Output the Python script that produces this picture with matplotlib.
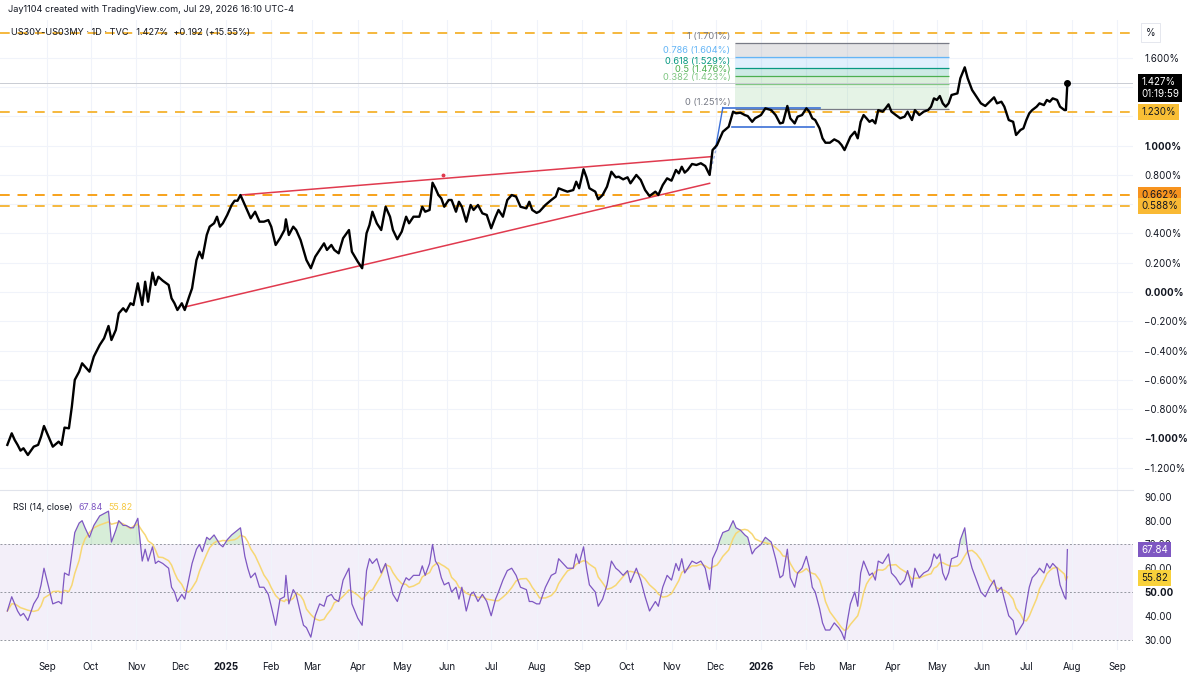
import matplotlib
matplotlib.use("Agg")
import matplotlib.pyplot as plt
import matplotlib.dates as mdates
import numpy as np
import pandas as pd

plt.rcParams['font.family'] = ['Inter', 'DejaVu Sans']

# ---------------- data ----------------
dates = [
    "2024-08-05","2024-08-08","2024-08-10","2024-08-12","2024-08-14","2024-08-16","2024-08-19","2024-08-23","2024-08-26","2024-08-28","2024-08-30",
    "2024-09-03","2024-09-05","2024-09-09","2024-09-11","2024-09-13","2024-09-16","2024-09-18","2024-09-20","2024-09-23","2024-09-25","2024-09-27","2024-09-30",
    "2024-10-03","2024-10-07","2024-10-10","2024-10-13","2024-10-15","2024-10-18","2024-10-20","2024-10-23","2024-10-25","2024-10-28","2024-10-30",
    "2024-11-02","2024-11-05","2024-11-07","2024-11-09","2024-11-12","2024-11-14","2024-11-16","2024-11-19","2024-11-23","2024-11-25","2024-11-27","2024-11-29",
    "2024-12-02","2024-12-04","2024-12-07","2024-12-09","2024-12-12","2024-12-14","2024-12-16","2024-12-19","2024-12-21","2024-12-24","2024-12-26","2024-12-28","2024-12-30",
    "2025-01-02","2025-01-05","2025-01-07","2025-01-09","2025-01-11","2025-01-14","2025-01-16","2025-01-18","2025-01-21","2025-01-24","2025-01-27","2025-01-30",
    "2025-02-01","2025-02-04","2025-02-07","2025-02-10","2025-02-11","2025-02-13","2025-02-16","2025-02-18","2025-02-21","2025-02-23","2025-02-25","2025-02-28",
    "2025-03-03","2025-03-06","2025-03-09","2025-03-11","2025-03-14","2025-03-16","2025-03-19","2025-03-22","2025-03-26","2025-03-28",
    "2025-04-01","2025-04-04","2025-04-07","2025-04-09","2025-04-11","2025-04-14","2025-04-17","2025-04-20","2025-04-23","2025-04-25","2025-04-28",
    "2025-05-01","2025-05-04","2025-05-06","2025-05-09","2025-05-13","2025-05-15","2025-05-17","2025-05-20","2025-05-22","2025-05-24","2025-05-26","2025-05-28","2025-05-30",
    "2025-06-02","2025-06-04","2025-06-07","2025-06-09","2025-06-11","2025-06-14","2025-06-17","2025-06-19","2025-06-22","2025-06-25","2025-06-28",
    "2025-07-01","2025-07-04","2025-07-06","2025-07-09","2025-07-12","2025-07-15","2025-07-18","2025-07-21","2025-07-25","2025-07-27","2025-07-29",
    "2025-08-01","2025-08-03","2025-08-07","2025-08-11","2025-08-14","2025-08-16","2025-08-19","2025-08-22","2025-08-26","2025-08-28","2025-08-30",
    "2025-09-02","2025-09-04","2025-09-06","2025-09-10","2025-09-12","2025-09-15","2025-09-18","2025-09-21","2025-09-24","2025-09-26","2025-09-29",
    "2025-10-02","2025-10-04","2025-10-08","2025-10-11","2025-10-14","2025-10-17","2025-10-21","2025-10-23","2025-10-26","2025-10-29",
    "2025-11-01","2025-11-04","2025-11-06","2025-11-08","2025-11-10","2025-11-12","2025-11-15","2025-11-18","2025-11-21","2025-11-24","2025-11-27","2025-11-29",
    "2025-12-02","2025-12-04","2025-12-06","2025-12-10","2025-12-13","2025-12-15","2025-12-18","2025-12-21","2025-12-23","2025-12-26","2025-12-28",
    "2026-01-01","2026-01-04","2026-01-08","2026-01-11","2026-01-14","2026-01-16","2026-01-19","2026-01-21","2026-01-24","2026-01-26","2026-01-29",
    "2026-02-01","2026-02-03","2026-02-05","2026-02-07","2026-02-10","2026-02-12","2026-02-14","2026-02-17","2026-02-20","2026-02-23","2026-02-25","2026-02-27",
    "2026-03-01","2026-03-03","2026-03-06","2026-03-08","2026-03-10","2026-03-12","2026-03-14","2026-03-16","2026-03-18","2026-03-20","2026-03-22","2026-03-25","2026-03-27","2026-03-29","2026-03-31",
    "2026-04-03","2026-04-06","2026-04-09","2026-04-11","2026-04-14","2026-04-16","2026-04-19","2026-04-22","2026-04-25","2026-04-27","2026-04-29",
    "2026-05-01","2026-05-03","2026-05-05","2026-05-07","2026-05-09","2026-05-11","2026-05-15","2026-05-17","2026-05-20","2026-05-22","2026-05-25","2026-05-28","2026-05-31",
    "2026-06-03","2026-06-06","2026-06-09","2026-06-11","2026-06-14","2026-06-16","2026-06-19","2026-06-22","2026-06-24","2026-06-27","2026-06-29",
    "2026-07-01","2026-07-03","2026-07-05","2026-07-08","2026-07-10","2026-07-13","2026-07-15","2026-07-17","2026-07-19","2026-07-22","2026-07-24","2026-07-27","2026-07-28","2026-07-29",
]

spread = [
    -1.044,-0.965,-1.01,-1.044,-1.083,-1.067,-1.113,-1.056,-1.044,-0.988,-0.915,
    -1.01,-1.056,-1.022,-1.044,-0.926,-0.931,-0.783,-0.60,-0.544,-0.487,-0.51,-0.544,
    -0.441,-0.362,-0.316,-0.232,-0.328,-0.259,-0.146,-0.111,-0.134,-0.077,-0.089,
    0.059,-0.089,0.070,-0.066,0.132,0.048,0.104,0.077,0.048,-0.043,-0.077,-0.123,
    -0.077,-0.123,-0.032,0.025,0.218,0.275,0.230,0.389,0.446,0.469,0.514,0.446,0.469,
    0.526,0.594,0.623,0.623,0.662,0.594,0.548,0.503,0.548,0.48,0.48,0.491,
    0.446,0.321,0.367,0.423,0.496,0.389,0.446,0.423,0.355,0.287,0.218,0.162,
    0.241,0.287,0.332,0.287,0.321,0.287,0.264,0.367,0.423,0.275,
    0.207,0.162,0.401,0.457,0.548,0.469,0.423,0.582,0.514,0.423,0.36,
    0.412,0.514,0.469,0.514,0.514,0.582,0.548,0.56,0.746,0.708,0.662,0.639,0.582,
    0.628,0.628,0.548,0.616,0.582,0.48,0.594,0.56,0.594,0.537,0.526,
    0.435,0.514,0.56,0.514,0.628,0.662,0.651,0.582,0.571,0.616,0.56,
    0.54,0.55,0.594,0.628,0.651,0.708,0.696,0.685,0.696,0.753,0.708,
    0.838,0.783,0.708,0.685,0.633,0.662,0.719,0.821,0.783,0.787,0.769,
    0.783,0.742,0.799,0.765,0.696,0.655,0.685,0.662,0.730,0.776,
    0.760,0.833,0.810,0.855,0.815,0.833,0.874,0.867,0.879,0.860,0.799,0.969,
    1.003,1.049,1.094,1.128,1.231,1.22,1.224,1.208,1.201,1.162,1.186,
    1.208,1.254,1.242,1.208,1.151,1.156,1.270,1.186,1.151,1.197,1.208,
    1.254,1.231,1.186,1.174,1.117,1.049,1.019,1.019,1.042,1.026,1.003,0.969,
    1.015,1.06,1.094,1.049,1.162,1.208,1.186,1.162,1.174,1.151,1.242,1.231,1.254,1.281,1.231,
    1.208,1.186,1.197,1.231,1.174,1.242,1.208,1.231,1.242,1.265,1.322,
    1.311,1.338,1.288,1.265,1.288,1.345,1.356,1.459,1.534,1.459,1.379,1.333,1.288,
    1.270,1.299,1.329,1.288,1.299,1.265,1.174,1.162,1.072,1.106,1.117,
    1.174,1.220,1.242,1.265,1.288,1.276,1.311,1.299,1.322,1.311,1.265,1.242,1.242,1.427,
]

rsi = [
    42,48,45,42,40,41,38,45,48,53,60,
    50,45,46,45,58,57,66,75,79,80,77,73,
    78,82,83,84,71,76,80,78,78,77,77,
    81,63,68,63,69,62,63,62,60,52,50,46,
    49,47,56,62,68,70,67,73,72,74,72,70,69,
    72,74,75,76,77,65,60,56,58,52,52,49,
    44,36,47,48,57,45,51,49,41,36,35,31,
    40,45,44,48,49,47,46,55,60,45,
    39,36,59,64,62,64,58,62,54,49,46,
    52,56,55,57,57,61,57,62,70,63,61,56,53,
    54,50,52,47,52,42,49,50,46,49,46,
    40,47,50,55,59,60,57,52,51,46,46,
    45,45,52,57,58,64,62,60,60,66,62,
    69,60,53,50,44,47,53,63,60,59,57,
    59,54,60,55,48,42,46,44,52,57,
    55,62,59,64,58,60,63,62,63,60,51,64,
    68,72,75,76,80,77,76,74,73,66,68,
    70,73,71,64,56,57,68,56,52,58,60,
    65,60,52,50,43,37,34,34,37,35,33,30,
    38,45,50,44,58,63,60,57,58,55,63,62,64,66,58,
    56,53,55,59,52,60,56,58,59,61,66,
    64,66,58,55,58,64,65,72,77,67,60,55,50,
    48,52,55,50,52,47,40,38,32,35,37,
    45,52,56,58,60,58,62,60,62,60,53,48,47,67.84,
]

last_value = 1.427
rsi_last, rsi_ma_last = 67.84, 55.82

# horizontal levels (dashed) and their right-axis tags
hlevels = [1.768, 1.230, 0.662, 0.588]

# Fibonacci retracement
fib_start, fib_end = "2025-12-14", "2026-05-09"
fib_zero, fib_one = 1.2508, 1.7006
fib_ratios = [0, 0.382, 0.5, 0.618, 0.786, 1]
fib_colors = ['#787b86', '#81c784', '#4caf50', '#089981', '#64b5f6', '#787b86']

# wedge trend lines (red)
wedge_upper = (["2025-01-11", "2025-11-28"], [0.662, 0.924])
wedge_lower = (["2024-12-03", "2025-11-27"], [-0.105, 0.742])
wedge_mark = (["2025-05-29"], [0.80])
# flag lines (blue)
flag_top = (["2025-12-06", "2026-02-10"], [1.259, 1.259])
flag_bottom = (["2025-12-12", "2026-02-06"], [1.128, 1.128])
flag_pole = (["2025-12-01", "2025-12-06"], [0.98, 1.259])
flag_pole2 = (["2025-11-27", "2025-12-02"], [0.80, 1.0])

month_ticks = pd.date_range("2024-09-01", "2026-09-01", freq="MS")
price_ticks = [-1.2, -1.0, -0.8, -0.6, -0.4, -0.2, 0.0, 0.2, 0.4, 0.6, 0.8, 1.0, 1.2, 1.4, 1.6]
price_hidden = [0.6, 1.2, 1.4]
price_bold = [-1.0, 0.0, 1.0]
rsi_ticks = [30, 40, 50, 60, 70, 80, 90]

# ---------------- figure ----------------
TXT = '#131722'
GRID = '#f0f3fa'
W, H = 1200, 675
fig = plt.figure(figsize=(12, 6.75), dpi=100)
fig.patch.set_facecolor('white')

def fy(py):
    return 1 - py / H

ax = fig.add_axes([0, fy(490), 1133 / W, fy(20) - fy(490)])
axr = fig.add_axes([0, fy(650), 1133 / W, fy(490) - fy(650)], sharex=ax)

d = pd.to_datetime(dates)
s = np.array(spread)
r = np.array(rsi, dtype=float)
r_ma = pd.Series(r).rolling(6, min_periods=1).mean().values

xmin = pd.Timestamp("2024-07-31")
xmax = pd.Timestamp("2026-09-11 18:00")
ax.set_xlim(xmin, xmax)
ax.set_ylim(-1.352, 1.857)
axr.set_ylim(25.6, 92.9)

for a in (ax, axr):
    for sp in a.spines.values():
        sp.set_visible(False)
    a.set_xticks(month_ticks)
    a.grid(True, color=GRID, lw=0.8)
    a.set_axisbelow(True)
axr.spines['top'].set_visible(True)
axr.spines['top'].set_color('#e0e3eb')
axr.spines['top'].set_linewidth(0.8)

# price y axis
ax.yaxis.tick_right()
ax.set_yticks(price_ticks)
def fmt(v):
    if v in price_hidden:
        return ''
    t = f"{abs(v):.3f}%"
    return ('\u2212' + t) if v < 0 else t
ax.set_yticklabels([fmt(v) for v in price_ticks])
ax.tick_params(axis='y', length=0, pad=8, labelsize=7, labelcolor=TXT)
for lab, v in zip(ax.get_yticklabels(), price_ticks):
    if v in price_bold:
        lab.set_fontweight('bold')
ax.tick_params(axis='x', length=0, labelbottom=False)

# rsi y axis
axr.yaxis.tick_right()
axr.set_yticks(rsi_ticks)
axr.set_yticklabels([f"{v:.2f}" for v in rsi_ticks])
axr.tick_params(axis='y', length=0, pad=8, labelsize=7, labelcolor=TXT)
for lab, v in zip(axr.get_yticklabels(), rsi_ticks):
    if v == 50:
        lab.set_fontweight('bold')
axr.yaxis.grid(False)
axr.set_xticklabels([t.strftime('%Y') if t.month == 1 else t.strftime('%b') for t in month_ticks])
axr.tick_params(axis='x', length=0, pad=9, labelsize=7, labelcolor=TXT)
for lab, t in zip(axr.get_xticklabels(), month_ticks):
    if t.month == 1:
        lab.set_fontweight('bold')

# ---------------- price pane ----------------
for lv in hlevels:
    col = '#f7a21b' if lv == 0.662 else '#f5b83d'
    ax.axhline(lv, color=col, lw=1.4, ls=(0, (5, 4)), zorder=2)
ax.axhline(last_value, color='#c9ccd3', lw=0.7, zorder=1.8)

# fib
f0, f1 = pd.Timestamp(fib_start), pd.Timestamp(fib_end)
levels = [fib_zero + rt * (fib_one - fib_zero) for rt in fib_ratios]
for i in range(len(levels) - 1):
    ax.fill_between([f0, f1], levels[i], levels[i + 1], color=fib_colors[i + 1], alpha=0.2, lw=0, zorder=1.5)
for lv, rt, col in zip(levels, fib_ratios, fib_colors):
    ax.hlines(lv, f0, f1, color=col, lw=0.9, zorder=1.6)
    lab = f"{rt:g} ({lv:.3f}%)"
    ax.annotate(lab, (f0, lv), xytext=(-3, 1.5), textcoords='offset points',
                ha='right', va='bottom', fontsize=6.7, color=col, zorder=3)

# trend lines
RED = '#e03a4e'
BLUE = '#3b6fd6'
ax.plot(pd.to_datetime(wedge_upper[0]), wedge_upper[1], color=RED, lw=1.1, zorder=3)
ax.plot(pd.to_datetime(wedge_lower[0]), wedge_lower[1], color=RED, lw=1.1, zorder=3)
ax.plot(pd.to_datetime(wedge_mark[0]), wedge_mark[1], marker='o', ms=1.8, color=RED, ls='none', zorder=3)
ax.plot(pd.to_datetime(flag_top[0]), flag_top[1], color=BLUE, lw=1.2, zorder=3)
ax.plot(pd.to_datetime(flag_bottom[0]), flag_bottom[1], color=BLUE, lw=1.2, zorder=3)
ax.plot(pd.to_datetime(flag_pole[0]), flag_pole[1], color=BLUE, lw=1.0, zorder=3)
ax.plot(pd.to_datetime(flag_pole2[0]), flag_pole2[1], color='#9fb4e8', lw=1.0, ls=(0, (2, 2)), zorder=3)

# price line
ax.plot(d, s, color='black', lw=1.7, zorder=4, solid_joinstyle='round')
ax.plot([d[-1]], [s[-1]], marker='o', ms=4, color='black', zorder=5)

# right axis tags
def tag(a, y, text, fc, tc, dy=0, weight='normal', size=7):
    a.annotate(text, xy=(1, y), xycoords=('axes fraction', 'data'),
               xytext=(6, dy), textcoords='offset points', ha='left', va='center',
               fontsize=size, color=tc, fontweight=weight, annotation_clip=False,
               bbox=dict(boxstyle='square,pad=0.3', fc=fc, ec='none'), zorder=10)

tag(ax, 1.230, '1.230%', '#f9bf35', TXT)
tag(ax, 0.662, '0.662%', '#f7931e', TXT)
tag(ax, 0.588, '0.588%', '#f9b934', TXT)
tag(ax, last_value, f'{last_value:.3f}%\n01:19:59', '#000000', 'white', dy=-3.5)
ax.annotate('%', xy=(1, 1), xycoords='axes fraction', xytext=(9, -9), textcoords='offset points',
            ha='left', va='center', fontsize=7, color=TXT, annotation_clip=False,
            bbox=dict(boxstyle='square,pad=0.5', fc='white', ec='#e0e3eb', lw=0.6))

# ---------------- RSI pane ----------------
axr.axhspan(30, 70, color='#7e57c2', alpha=0.09, lw=0, zorder=0.5)
for lv in (70, 50, 30):
    axr.axhline(lv, color='#9598a1', lw=0.7, ls=(0, (2, 2)), zorder=1)
axr.fill_between(d, r, 70, where=r > 70, interpolate=True, color='#4caf50', alpha=0.22, lw=0, zorder=1.2)
axr.fill_between(d, r, 30, where=r < 30, interpolate=True, color='#f23645', alpha=0.22, lw=0, zorder=1.2)
axr.plot(d, r_ma, color='#f7d774', lw=1.1, zorder=2)
axr.plot(d, r, color='#7e57c2', lw=0.9, zorder=3)

tag(axr, rsi_last, f'{rsi_last:.2f}', '#7e57c2', 'white')
tag(axr, rsi_ma_last, f'{rsi_ma_last:.2f}', '#f8d13b', TXT)

# ---------------- header texts ----------------
fig.text(8 / W, fy(10), 'Jay1104 created with TradingView.com, Jul 29, 2026 16:10 UTC-4',
         fontsize=6.6, color=TXT, va='center', ha='left')
fig.text(11 / W, fy(33), 'US30Y-US03MY \u00b7 1D \u00b7 TVC   1.427%  +0.192 (+15.55%)',
         fontsize=6.6, color=TXT, va='center', ha='left', zorder=20)
fig.text(13 / W, fy(508), 'RSI (14, close)', fontsize=6.4, color=TXT, va='center', ha='left')
fig.text(79 / W, fy(508), f'{rsi_last:.2f}', fontsize=6.4, color='#7e57c2', va='center', ha='left')
fig.text(108 / W, fy(508), f'{rsi_ma_last:.2f}', fontsize=6.4, color='#f5c842', va='center', ha='left')

fig.savefig('out.png', dpi=100, facecolor='white')
